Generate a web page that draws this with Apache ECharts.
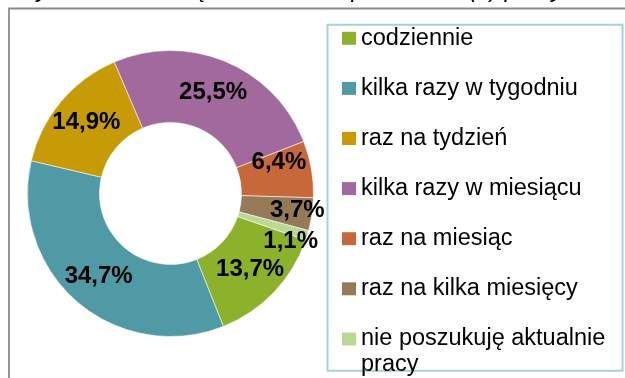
<!DOCTYPE html>
<html>
<head>
<meta charset="utf-8">
<script src="https://cdn.jsdelivr.net/npm/echarts@6/dist/echarts.min.js"></script>
<style>
  html, body { margin: 0; padding: 0; background: #fff; }
  #chart { width: 625px; height: 378px; }
</style>
</head>
<body>
<div id="chart"></div>
<script>
// How often respondents look for a job (share of answers, %)
const categories = [
  'codziennie',
  'kilka razy w tygodniu',
  'raz na tydzień',
  'kilka razy w miesiącu',
  'raz na miesiąc',
  'raz na kilka miesięcy',
  'nie poszukuję aktualnie pracy'
];
const shares = [13.7, 34.7, 14.9, 25.5, 6.4, 3.7, 1.1];
const titleText = 'Wykres 5. Jak często Pan/Pani poszukiwał(a) pracy';

const palette = ['#8CB12B', '#4F9AA5', '#C79B05', '#A2699C', '#C7683A', '#957A57', '#BAD993'];
// small labels sit a little off the ring middle
const labelShift = [[0, 0], [0, 0], [0, 0], [0, 0], [0, -12], [18, 1], [15, 16]];

const FONT = '"Liberation Sans", Arial, sans-serif';
const chart = echarts.init(document.getElementById('chart'), null, { renderer: 'canvas' });

const LINE_H = 26;
const legendTextStyle = {
  fontFamily: FONT,
  fontSize: 23.5,
  color: '#000',
  lineHeight: LINE_H
};

// square marker; the wrapped last entry uses a taller box with the square at its top,
// so the square lines up with the first text line
const squareTall = 'path://M0,0H14V13H0Z M0,38.9L0.01,39';

const legends = categories.map((name, i) => {
  const centerY = 38.3 + 50.1 * i;
  const multi = i === categories.length - 1;
  return {
    orient: 'vertical',
    left: 342,
    top: multi ? centerY - 6.5 - 6.5 : centerY - 13,
    padding: 0,
    itemWidth: 14,
    itemHeight: multi ? 39 : 13,
    icon: multi ? squareTall : 'rect',
    itemStyle: { borderWidth: 0 },
    selectedMode: false,
    data: [name],
    // the long entry wraps its last word onto a second line
    formatter: multi ? (n => n.replace(/ (\S+)$/, '\n$1')) : (n => n),
    textStyle: legendTextStyle
  };
});

chart.setOption({
  backgroundColor: '#fff',
  animation: false,
  color: palette,
  legend: legends,
  graphic: [
    {
      type: 'rect',
      shape: { x: 9, y: 8.5, width: 700, height: 500 },
      style: { fill: 'none', stroke: '#8A8A8A', lineWidth: 1.8 },
      z: 1
    },
    {
      type: 'rect',
      shape: { x: 327.5, y: 24.7, width: 295, height: 346 },
      style: { fill: 'none', stroke: '#A3D2D8', lineWidth: 2 },
      z: 1
    },
    {
      type: 'text',
      left: 14,
      top: -22,
      style: {
        text: titleText,
        font: 'italic 24px ' + FONT,
        fill: '#000'
      },
      z: 5
    }
  ],
  series: [{
    type: 'pie',
    radius: [71, 143],
    center: [170.5, 193.5],
    startAngle: 341,
    clockwise: true,
    avoidLabelOverlap: false,
    minShowLabelAngle: 0,
    emphasis: { disabled: true },
    itemStyle: { borderColor: 'rgba(255,255,255,0.7)', borderWidth: 0.8 },
    label: {
      show: true,
      position: 'inside',
      fontFamily: FONT,
      fontWeight: 'bold',
      fontSize: 24,
      color: '#000',
      formatter: p => p.value.toFixed(1).replace('.', ',') + '%'
    },
    labelLine: { show: false },
    labelLayout: p => ({ dx: labelShift[p.dataIndex][0], dy: labelShift[p.dataIndex][1] }),
    data: categories.map((name, i) => ({ name, value: shares[i] }))
  }]
});
</script>
</body>
</html>
